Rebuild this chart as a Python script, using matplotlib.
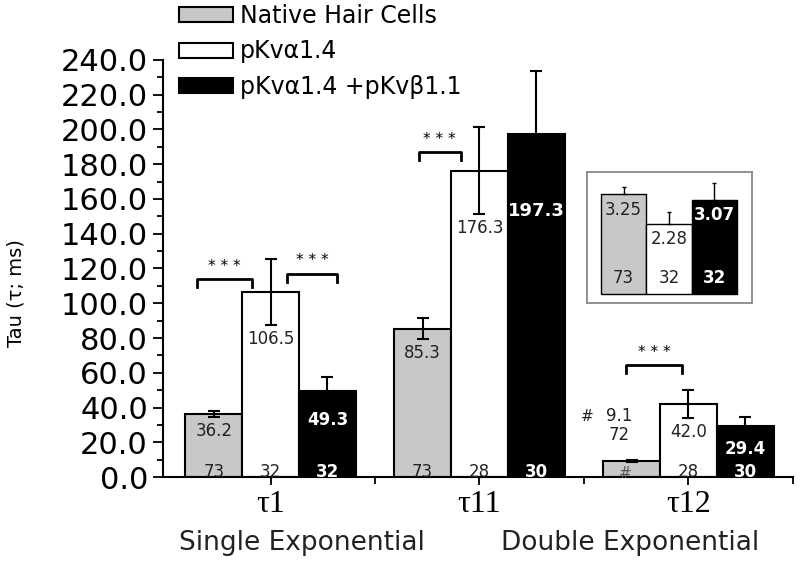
import numpy as np
import matplotlib.pyplot as plt
from matplotlib.patches import Patch
from matplotlib.ticker import MultipleLocator, FixedLocator

plt.rcParams['font.family'] = ['DejaVu Sans']

groups = ["τ1", "τ11", "τ12"]
series = ["Native Hair Cells", "pKvα1.4", "pKvα1.4 +pKvβ1.1"]
colors = ["#c8c8c8", "white", "black"]

native = [36.2, 85.3, 9.1]
alpha14 = [106.5, 176.3, 42.0]
alpha_beta = [49.3, 197.3, 29.4]
native_err = [1.6, 6.0, 0.5]
alpha14_err = [19.0, 25.0, 8.0]
alpha_beta_err = [8.4, 36.5, 5.3]
native_n = [73, 73, 72]
alpha14_n = [32, 28, 28]
alpha_beta_n = [32, 30, 30]

# inset: amplitude ratio
inset_vals = [3.25, 2.28, 3.07]
inset_err = [0.25, 0.40, 0.56]
inset_n = [73, 32, 32]

# significance brackets: (x_left, x_right, height)
brackets = [(-0.35, -0.09, 114), (0.08, 0.32, 117), (0.71, 0.91, 187), (1.70, 1.97, 64.5)]

fig = plt.figure(figsize=(8, 5.64), dpi=100)
ax = fig.add_axes([0.204, 0.154, 0.787, 0.740])

w = 0.272
x = np.arange(len(groups))
vals = [native, alpha14, alpha_beta]
errs = [native_err, alpha14_err, alpha_beta_err]
ns = [native_n, alpha14_n, alpha_beta_n]
offs = [-w, 0, w]
dark = "#222222"

for s in range(3):
    xs = x + offs[s]
    ax.bar(xs, vals[s], width=w, color=colors[s], edgecolor="black", linewidth=1.5, zorder=2)
    ax.errorbar(xs, vals[s], yerr=errs[s], fmt="none", ecolor="black", elinewidth=1.5,
                capsize=4, capthick=1.5, zorder=3)
    tc = "white" if s == 2 else dark
    fw = "bold" if s == 2 else "normal"
    for i in range(3):
        if s == 0 and i == 2:
            continue  # tiny bar, labelled outside
        big = (s == 2 and i == 1)
        ax.text(xs[i], vals[s][i] - errs[s][i] - 8, f"{vals[s][i]:.1f}", ha="center", va="center",
                color=tc, fontsize=13 if big else 12, fontweight="bold" if big else fw, zorder=4)
        ax.text(xs[i], 3, str(ns[s][i]), ha="center", va="center", color=tc,
                fontsize=12, fontweight=fw, zorder=4)

# small tau12 native bar: label outside
ax.text(x[2] - w - 0.21, 35, "#", ha="center", va="center", fontsize=11, color=dark)
ax.text(x[2] - w - 0.06, 35, f"{native[2]:.1f}", ha="center", va="center", fontsize=12, color=dark)
ax.text(x[2] - w - 0.06, 24, str(native_n[2]), ha="center", va="center", fontsize=12, color=dark)
ax.text(x[2] - w - 0.03, 2.0, "#", ha="center", va="center", fontsize=11, color="#555555", zorder=4)

for xl, xr, h in brackets:
    ax.plot([xl, xl, xr, xr], [h - 4.5, h, h, h - 4.5], color="black", linewidth=2, zorder=3)
    ax.text((xl + xr) / 2, h + 3, "* * *", ha="center", va="bottom", fontsize=11)

ax.set_xlim(-0.514, 2.5)
ax.set_ylim(0, 240)
ax.spines["top"].set_visible(False)
ax.spines["right"].set_visible(False)
ax.spines["left"].set_linewidth(1.5)
ax.spines["bottom"].set_linewidth(1.5)
ax.yaxis.set_major_locator(MultipleLocator(20))
ax.yaxis.set_minor_locator(MultipleLocator(10))
ax.set_yticklabels([f"{v:.1f}" for v in ax.get_yticks()])
ax.tick_params(axis="y", which="major", direction="out", length=7, width=1.3, labelsize=22, pad=4)
ax.tick_params(axis="y", which="minor", direction="out", length=4, width=1.3)
ax.set_xticks(x)
ax.set_xticklabels(groups, fontfamily="Liberation Serif", fontsize=23)
ax.xaxis.set_minor_locator(FixedLocator([0.5, 1.5, 2.5]))
ax.tick_params(axis="x", which="major", direction="out", length=6, width=1.3, pad=3)
ax.tick_params(axis="x", which="minor", direction="out", length=5, width=1.3)
ax.set_ylabel("Tau (τ; ms)", fontsize=14)
ax.yaxis.set_label_coords(-0.219, 0.44)

fig.text(302 / 800, 1 - 543 / 564, "Single Exponential", ha="center", va="center", fontsize=19, color=dark)
fig.text(630 / 800, 1 - 543 / 564, "Double Exponential", ha="center", va="center", fontsize=19, color=dark)

handles = [Patch(facecolor=c, edgecolor="black", linewidth=1.5) for c in colors]
fig.legend(handles, series, loc="upper left", bbox_to_anchor=(175 / 800, 1.0), frameon=False,
           fontsize=17, handlelength=2.3, handleheight=0.6, handletextpad=0.3, labelspacing=0.5,
           borderpad=0.15, borderaxespad=0)

# inset
ins = fig.add_axes([587 / 800, 1 - 303.3 / 564, 165 / 800, 131.6 / 564])
ix = np.arange(3)
ins.bar(ix, inset_vals, width=1.0, color=colors, edgecolor="black", linewidth=1.0)
ins.errorbar(ix, inset_vals, yerr=[[0, 0, 0], inset_err], fmt="none", ecolor="black",
             elinewidth=1.0, capsize=1.5, capthick=1.0)
for i in range(3):
    tc = "white" if i == 2 else dark
    fw = "bold" if i == 2 else "normal"
    ins.text(ix[i], inset_vals[i] - 0.5, f"{inset_vals[i]:.2f}", ha="center", va="center",
             fontsize=12, color=tc, fontweight=fw)
    ins.text(ix[i], 0.54, str(inset_n[i]), ha="center", va="center", fontsize=12, color=tc, fontweight=fw)
ins.set_xlim(-0.809, 2.831)
ins.set_ylim(-0.30, 3.99)
ins.set_xticks([])
ins.set_yticks([])
for sp in ins.spines.values():
    sp.set_edgecolor("#888888")
    sp.set_linewidth(1.3)

fig.savefig("out.png", dpi=100)
